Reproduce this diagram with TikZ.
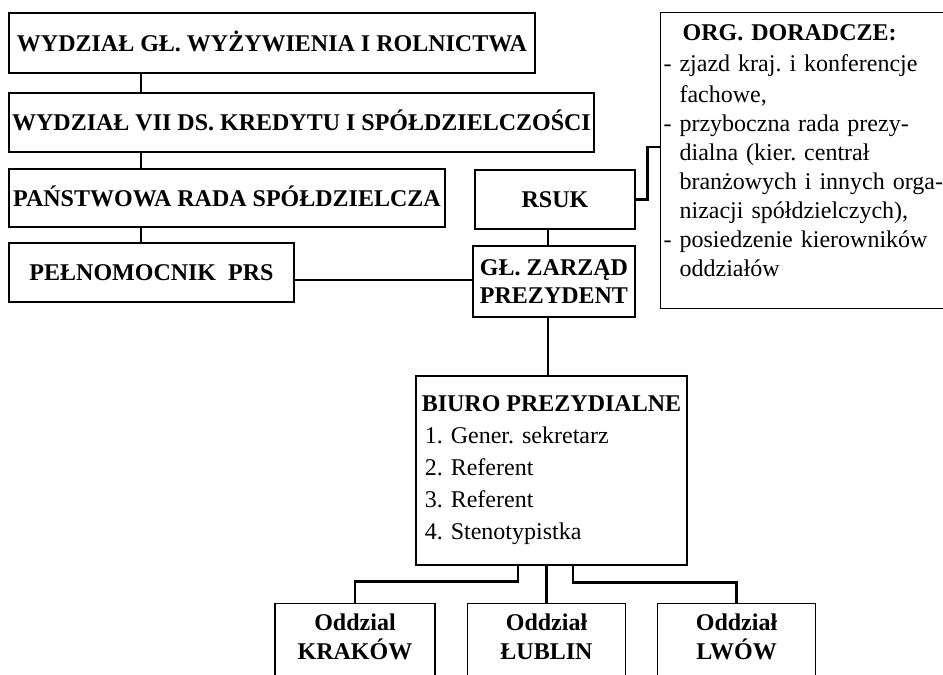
\documentclass[tikz,border=0pt]{standalone}
\usepackage{fontspec}
\setmainfont{Liberation Serif}
\usetikzlibrary{positioning, calc}
\newcommand{\chartfont}{\fontsize{24}{29}\selectfont\frenchspacing}
\tikzstyle{box} = [rectangle,
draw=black,
line width=1.2pt,
inner sep=0pt,
align=center,
font=\chartfont\bfseries]
\tikzstyle{onebox} = [box, text height=16pt, text depth=0pt] % single line, caps only
\tikzstyle{unitbox} = [box, anchor=north, inner ysep=10pt, minimum width=158pt, text depth=60pt]
\tikzstyle{link} = [line width=2.4pt]

\begin{document}
\begin{tikzpicture}[x=1pt, y=-1pt]
    \useasboundingbox (0,0) rectangle (943,675);
    \clip (0,0) rectangle (943,675);

    \node[onebox, minimum width=526pt, minimum height=60pt] (wgl)    at (272,43)    {WYDZIAŁ GŁ. WYŻYWIENIA I ROLNICTWA};
    \node[onebox, minimum width=585pt, minimum height=59pt] (wvii)   at (301.5,122.5) {WYDZIAŁ VII DS. KREDYTU I SPÓŁDZIELCZOŚCI};
    \node[onebox, minimum width=436pt, minimum height=58pt] (prs)    at (227,198)   {PAŃSTWOWA RADA SPÓŁDZIELCZA};
    \node[onebox, minimum width=285pt, minimum height=59pt] (pelnom) at (151.5,272.5) {PEŁNOMOCNIK\ \ PRS};

    \node[onebox, minimum width=160pt, minimum height=59pt] (rsuk)   at (555,199.5) {RSUK};
    \node[box, minimum width=162pt, minimum height=71pt,
          font=\fontsize{24}{28}\selectfont\bfseries]       (zarzad) at (554,281.5) {GŁ. ZARZĄD\\PREZYDENT};

    \node[box, anchor=north west, align=left, text width=340pt,
          inner xsep=3pt, inner ysep=12pt, text depth=256pt,
          font=\chartfont]                                  (org)    at (660,12)
        {\textbf{\hspace*{19pt}ORG. DORADCZE:}\\[2pt]
         - zjazd kraj. i konferencje\\[2pt]
         \hphantom{- }fachowe,\\
         - przyboczna rada prezy-\\
         \hphantom{- }dialna (kier. centrał\\
         \hphantom{- }branżowych i innych orga-\\
         \hphantom{- }nizacji spółdzielczych),\\
         - posiedzenie kierowników\\
         \hphantom{- }oddziałów};

    \node[box, align=left, minimum width=271pt, minimum height=189pt,
          font=\fontsize{24}{32}\selectfont]                (biuro)  at (551.5,470.5)
        {\textbf{BIURO PREZYDIALNE}\\
         \hspace*{3pt}1. Gener. sekretarz\\
         \hspace*{3pt}2. Referent\\
         \hspace*{3pt}3. Referent\\
         \hspace*{3pt}4. Stenotypistka};

    \node[unitbox, minimum width=160pt] (krakow) at (355,603)   {Oddzial\\KRAKÓW};
    \node[unitbox]                      (lublin) at (546.5,603) {Oddział\\ŁUBLIN};
    \node[unitbox]                      (lwow)   at (736.5,603) {Oddział\\LWÓW};

    % left column
    \draw[link] (wgl.south -| 141,0)  -- (wvii.north -| 141,0);
    \draw[link] (wvii.south -| 141,0) -- (prs.north -| 141,0);
    \draw[link] (prs.south -| 141,0)  -- (pelnom.north -| 141,0);
    \draw[link] (pelnom.east |- 0,280) -- (zarzad.west |- 0,280);

    % right column
    \draw[link] (rsuk.south -| 548,0)   -- (zarzad.north -| 548,0);
    \draw[link] (rsuk.east) -- ++(12,0) |- (org.west |- 0,147);
    \draw[link] (zarzad.south -| 548,0) -- (biuro.north -| 548,0);

    % branches
    \draw[link] (biuro.south -| 518,0) -- ++(0,16) -| (krakow.north);
    \draw[link] (biuro.south -| lublin.north) -- (lublin.north);
    \draw[link] (biuro.south -| 573,0) -- ++(0,17) -| (lwow.north);
\end{tikzpicture}
\end{document}
